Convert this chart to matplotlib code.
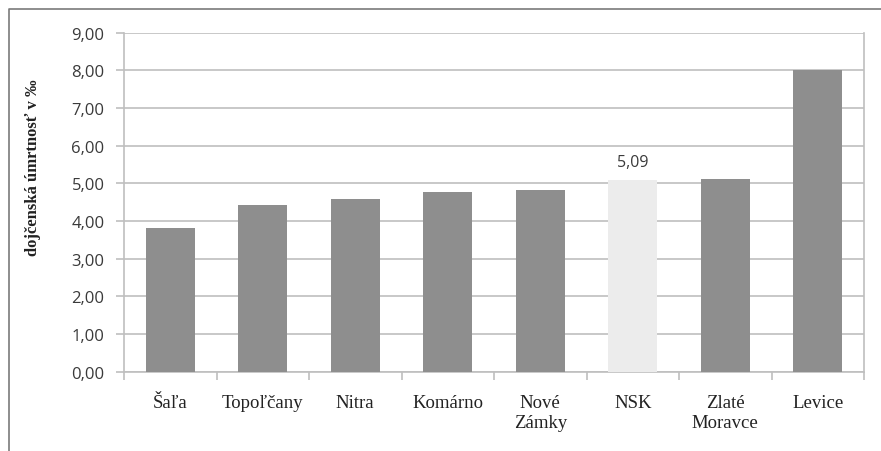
import matplotlib.pyplot as plt
from matplotlib.lines import Line2D
from matplotlib.ticker import MultipleLocator, FuncFormatter

# data
districts = ['Šaľa', 'Topoľčany', 'Nitra', 'Komárno', 'Nové\nZámky',
             'NSK', 'Zlaté\nMoravce', 'Levice']
mortality = [3.80, 4.41, 4.58, 4.78, 4.83, 5.09, 5.11, 8.00]
highlight = 'NSK'

bar_grey = '#8e8e8e'
nsk_grey = '#ececec'
grid_grey = '#bfbfbf'

fig = plt.figure(figsize=(8.81, 4.52), dpi=100)
ax = fig.add_axes([124 / 881, 1 - 372.7 / 452, 740 / 881, 339.2 / 452])

colors = [nsk_grey if d == highlight else bar_grey for d in districts]
x = range(len(districts))
bars = ax.bar(x, mortality, width=0.53, color=colors, zorder=3)

# value label only on the regional (NSK) bar
for i, (d, v) in enumerate(zip(districts, mortality)):
    if d == highlight:
        ax.annotate(f'{v:.2f}'.replace('.', ','), (i, v),
                    xytext=(0, 7), textcoords='offset points',
                    ha='center', va='bottom', fontsize=11.5,
                    family='Open Sans', color='#3a3a3a')

ax.set_xlim(-0.5, len(districts) - 0.5)
ax.set_ylim(0, 9)
ax.yaxis.set_major_locator(MultipleLocator(1))
ax.yaxis.set_major_formatter(FuncFormatter(lambda v, p: f'{v:.2f}'.replace('.', ',')))
ax.grid(axis='y', color=grid_grey, linewidth=1.2, zorder=0)

# category labels centred, tick marks on category borders
ax.set_xticks(list(x))
ax.set_xticklabels(districts, family='Liberation Serif', fontsize=13.5,
                   color='#222222', linespacing=1.25)
ax.set_xticks([i - 0.5 for i in range(len(districts) + 1)], minor=True)
ax.tick_params(axis='x', which='major', length=0, pad=16)
ax.tick_params(axis='x', which='minor', length=6, width=1.2, color=grid_grey)
ax.tick_params(axis='y', length=6, width=1.2, color=grid_grey, pad=8,
               labelsize=12, labelcolor='#3a3a3a')
for lab in ax.get_yticklabels():
    lab.set_family('Open Sans')

for side in ['left', 'bottom', 'right']:
    ax.spines[side].set_color(grid_grey)
    ax.spines[side].set_linewidth(1.2)
ax.spines['top'].set_visible(False)

fig.text(33 / 881, 1 - 168 / 452, 'dojčenská úmrtnosť v ‰', rotation=90,
         ha='center', va='center', fontsize=12, fontweight='bold',
         family='Liberation Serif', color='#222222')

# outer chart frame (cut off at right and bottom in the source)
fy = 1 - 9.5 / 452
fx = 8.5 / 881
fig.add_artist(Line2D([fx, fx, 1], [0, fy, fy], transform=fig.transFigure,
                      color='#7a7a7a', linewidth=1.2))

fig.savefig('out.png', dpi=100)
